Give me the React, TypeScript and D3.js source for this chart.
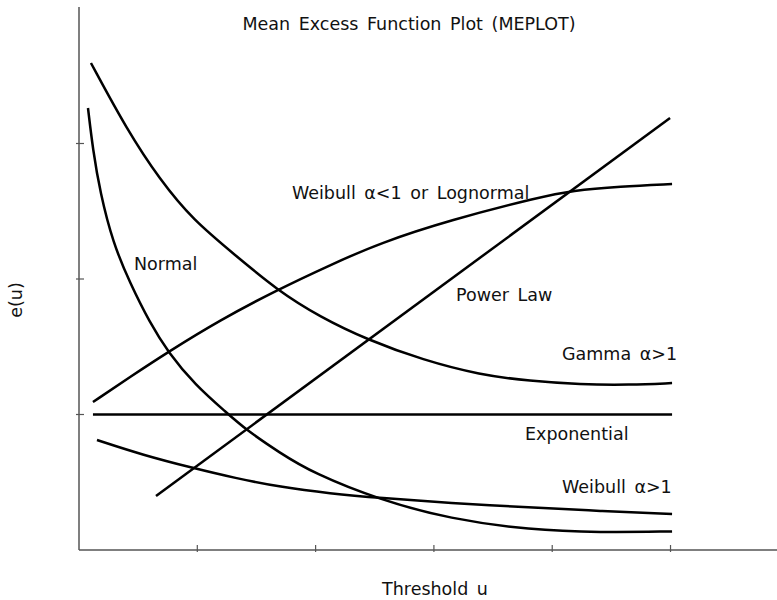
import React from "react";
import * as d3 from "d3";

type Pt = [number, number];

// curves, x in threshold units, y in e(u) units
const normal: Pt[] = [
  [0.076, 3.262], [0.118, 2.952], [0.178, 2.642], [0.287, 2.266], [0.431, 1.97],
  [0.6, 1.675], [0.752, 1.461], [0.981, 1.218], [1.251, 1.011], [1.403, 0.893],
  [1.699, 0.716], [1.978, 0.568], [2.544, 0.369], [3.136, 0.229], [3.812, 0.148],
  [4.404, 0.129], [5.013, 0.137],
];
const weibullGt1: Pt[] = [
  [0.152, 0.812], [0.541, 0.701], [0.964, 0.605], [1.319, 0.531], [1.699, 0.465],
  [2.122, 0.417], [2.544, 0.384], [3.136, 0.347], [3.812, 0.314], [4.404, 0.288],
  [5.013, 0.266],
];
const weibullLt1: Pt[] = [
  [0.118, 1.092], [0.431, 1.277], [0.752, 1.461], [1.192, 1.697], [1.674, 1.919],
  [2.122, 2.103], [2.544, 2.266], [3.136, 2.435], [3.897, 2.605], [4.167, 2.653],
  [4.573, 2.683], [5.013, 2.701],
];
const gamma: Pt[] = [
  [0.101, 3.594], [0.406, 3.1], [0.685, 2.731], [0.964, 2.435], [1.319, 2.177],
  [1.674, 1.919], [2.037, 1.72], [2.443, 1.55], [2.908, 1.402], [3.39, 1.292],
  [3.812, 1.247], [4.235, 1.221], [4.658, 1.218], [5.013, 1.232],
];
const powerLaw: Pt[] = [[0.651, 0.399], [4.996, 3.188]];
const exponential: Pt[] = [[0.118, 1.0], [5.013, 1.0]];

const curves = [normal, weibullGt1, weibullLt1, gamma, powerLaw, exponential];

const labelTexts = [
  "Normal", "Weibull α<1 or Lognormal", "Power Law",
  "Gamma α>1", "Exponential", "Weibull α>1",
];
const labelAt: Pt[] = [
  [0.465, 2.066], [1.8, 2.59], [3.187, 1.838],
  [4.083, 1.402], [3.77, 0.812], [4.083, 0.421],
];

const xTicks = [1, 2, 3, 4, 5];
const yTicks = [1, 2, 3];

export default function App() {
  const width = 777;
  const height = 600;
  const x = d3.scaleLinear().domain([0, 5.9]).range([79, 777]);
  const y = d3.scaleLinear().domain([0, 4]).range([550, 8]);

  // smooth B-spline through the read-off points
  const line = d3
    .line<Pt>()
    .x((d) => x(d[0]))
    .y((d) => y(d[1]))
    .curve(d3.curveBasis);

  const font = "'DejaVu Sans', Verdana, sans-serif";
  const axisColor = "#555";

  return (
    <svg
      width={width}
      height={height}
      style={{ position: "absolute", left: 0, top: 0, background: "#fff" }}
      fontFamily={font}
    >
      {/* axes */}
      <line x1={x(0)} x2={x(5.9)} y1={y(0)} y2={y(0)} stroke={axisColor} strokeWidth={1.5} />
      <line x1={x(0)} x2={x(0)} y1={y(0)} y2={y(4) - 1} stroke={axisColor} strokeWidth={1.5} />
      {xTicks.map((t) => (
        <line key={"x" + t} x1={x(t)} x2={x(t)} y1={y(0) - 5} y2={y(0) + 2} stroke={axisColor} strokeWidth={1.2} />
      ))}
      {yTicks.map((t) => (
        <line key={"y" + t} x1={x(0) - 3} x2={x(0) + 5} y1={y(t)} y2={y(t)} stroke={axisColor} strokeWidth={1.2} />
      ))}

      {/* curves */}
      {curves.map((c, i) => (
        <path key={i} d={line(c) ?? ""} fill="none" stroke="#000" strokeWidth={2.5} />
      ))}

      {/* labels */}
      <g fontSize={17.5} fill="#111" wordSpacing={3}>
        {labelTexts.map((t, i) => (
          <text key={t} x={x(labelAt[i][0])} y={y(labelAt[i][1])}>
            {t}
          </text>
        ))}
        <text x={409} y={30} textAnchor="middle">
          Mean Excess Function Plot (MEPLOT)
        </text>
        <text x={435} y={595} textAnchor="middle">
          Threshold u
        </text>
        <text transform="translate(22,300) rotate(-90)" textAnchor="middle">
          e(u)
        </text>
      </g>
    </svg>
  );
}
